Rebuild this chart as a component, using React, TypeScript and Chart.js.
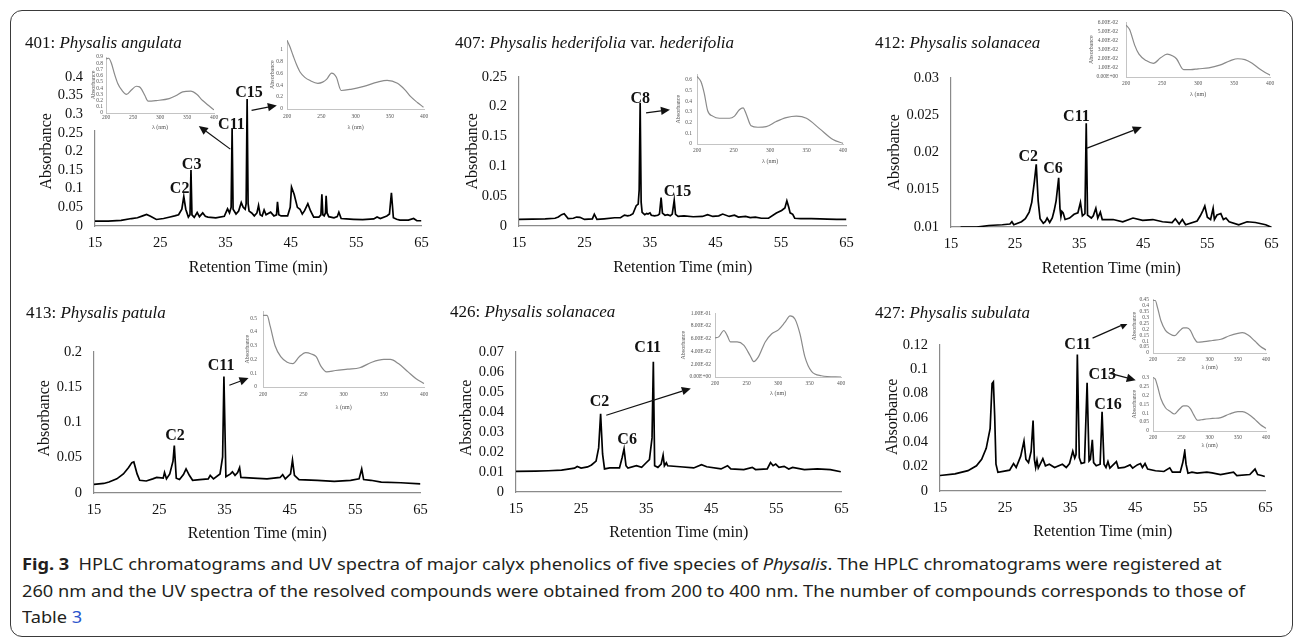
import React, { useEffect, useLayoutEffect, useRef } from 'react';
import { Chart, registerables } from 'chart.js';
Chart.register(...registerables);

const SERIF = "'Liberation Serif','Times New Roman',Times,serif";

// ---------------- chromatogram traces [time (min), absorbance] ----------------
const trace401: [number, number][] = [
  [15, 0.013], [17, 0.013], [19, 0.015], [20.6, 0.02], [21.5, 0.022], [22.3, 0.027], [22.9, 0.031], [23.5, 0.026], [24.4, 0.0175],
  [25.5, 0.02], [26.5, 0.024], [27.2, 0.027], [27.8, 0.03], [28.3, 0.045], [28.6, 0.079], [28.9, 0.045], [29.3, 0.024], [29.55, 0.03],
  [29.7, 0.15], [29.85, 0.03], [30.2, 0.023], [30.65, 0.036], [31.0, 0.025], [31.5, 0.035], [31.9, 0.026], [32.3, 0.024], [33.5, 0.022],
  [34.8, 0.026], [35.3, 0.046], [35.6, 0.035], [35.85, 0.05], [36.0, 0.26], [36.15, 0.045], [36.6, 0.032], [37.0, 0.04], [37.4, 0.063],
  [37.7, 0.05], [38.0, 0.045], [38.15, 0.06], [38.3, 0.34], [38.45, 0.06], [38.6, 0.04], [39.0, 0.035], [39.4, 0.027], [39.8, 0.035],
  [40.05, 0.055], [40.3, 0.03], [40.6, 0.027], [40.9, 0.043], [41.2, 0.03], [41.4, 0.032], [41.9, 0.037], [42.4, 0.027], [42.8, 0.03],
  [42.95, 0.065], [43.15, 0.03], [43.5, 0.027], [44.5, 0.027], [44.9, 0.05], [45.1, 0.104], [45.5, 0.085], [46.0, 0.05], [46.4, 0.045],
  [46.75, 0.032], [47.1, 0.041], [47.6, 0.06], [48.0, 0.041], [48.5, 0.024], [49.3, 0.024], [49.6, 0.03], [49.75, 0.085], [49.9, 0.03],
  [50.1, 0.027], [50.3, 0.035], [50.4, 0.081], [50.55, 0.035], [50.8, 0.025], [51.6, 0.022], [52.1, 0.025], [52.35, 0.037], [52.7, 0.02],
  [53.5, 0.019], [54.6, 0.018], [56, 0.017], [57.7, 0.019], [58.2, 0.024], [58.7, 0.02], [59.7, 0.027], [60.1, 0.032], [60.4, 0.089],
  [60.7, 0.022], [61.2, 0.018], [61.7, 0.016], [63, 0.016], [63.8, 0.02], [64.3, 0.014], [65, 0.014],
];

const trace407: [number, number][] = [
  [15, 0.011], [17, 0.0115], [19, 0.012], [20.5, 0.013], [21.0, 0.015], [21.5, 0.019], [21.9, 0.0206], [22.5, 0.0125], [23.3, 0.013],
  [23.8, 0.015], [24.3, 0.0145], [25.0, 0.011], [26.2, 0.012], [26.5, 0.0198], [26.9, 0.011], [28, 0.012], [29.6, 0.0138], [30.5, 0.014],
  [31.1, 0.0182], [31.6, 0.017], [32.0, 0.018], [32.4, 0.0206], [32.9, 0.034], [33.2, 0.0367], [33.35, 0.06], [33.5, 0.206], [33.65, 0.04],
  [33.8, 0.023], [34.2, 0.019], [34.5, 0.021], [34.7, 0.02], [35.0, 0.022], [35.2, 0.018], [35.7, 0.017], [36.2, 0.018], [36.45, 0.02],
  [36.7, 0.0476], [36.9, 0.0215], [37.3, 0.018], [37.7, 0.019], [38.1, 0.017], [38.4, 0.02], [38.7, 0.043], [38.9, 0.0195], [39.3, 0.016],
  [40.2, 0.017], [41.6, 0.0155], [43, 0.016], [43.8, 0.019], [44.6, 0.016], [45.5, 0.017], [46.1, 0.02], [47.1, 0.016], [47.9, 0.018],
  [48.5, 0.015], [49.6, 0.016], [50.3, 0.014], [51.1, 0.015], [52, 0.013], [53.1, 0.013], [54.3, 0.0216], [55.1, 0.026], [55.6, 0.0302],
  [55.9, 0.0422], [56.2, 0.031], [56.4, 0.022], [56.8, 0.0195], [57.1, 0.013], [58, 0.0125], [59.6, 0.0125], [61, 0.012], [62.1, 0.0115],
  [63.5, 0.011], [65, 0.011],
];

const trace412: [number, number][] = [
  [16.5, 0.01], [19, 0.01], [20.9, 0.0102], [23, 0.0103], [24.2, 0.0104], [24.5, 0.0107], [24.8, 0.0103], [26.0, 0.0107], [26.6, 0.0111],
  [27.2, 0.012], [27.6, 0.0133], [28.0, 0.016], [28.3, 0.0184], [28.6, 0.0135], [28.9, 0.0111], [29.4, 0.0105], [29.7, 0.0107], [30.0, 0.0112],
  [30.4, 0.0106], [30.8, 0.0112], [31.1, 0.0122], [31.4, 0.0135], [31.8, 0.0166], [32.0, 0.0125], [32.15, 0.0114], [32.3, 0.0121],
  [32.5, 0.0119], [32.8, 0.011], [33.5, 0.0112], [34.2, 0.0117], [34.8, 0.0119], [35.2, 0.0133], [35.5, 0.0115], [35.9, 0.0118],
  [36.1, 0.0239], [36.3, 0.0116], [36.9, 0.0112], [37.2, 0.0115], [37.6, 0.0125], [37.9, 0.0112], [38.3, 0.012], [38.6, 0.011],
  [40.3, 0.011], [41.8, 0.0107], [43.4, 0.0112], [44.9, 0.0109], [46.5, 0.011], [48.0, 0.0107], [49.5, 0.0106], [50.0, 0.0111],
  [50.6, 0.0104], [51.1, 0.011], [51.6, 0.0103], [53.4, 0.0108], [53.9, 0.0115], [54.3, 0.0122], [54.6, 0.0128], [55.0, 0.0113],
  [55.5, 0.011], [55.9, 0.0125], [56.1, 0.011], [56.5, 0.0116], [56.8, 0.0117], [57.1, 0.0118], [57.5, 0.011], [57.9, 0.0112],
  [58.4, 0.0107], [59.9, 0.0103], [61.2, 0.0107], [62.5, 0.0106], [64.1, 0.0103], [64.9, 0.01],
];

const trace413: [number, number][] = [
  [15, 0.0123], [16.5, 0.0135], [17.3, 0.0155], [18.5, 0.02], [19.5, 0.027], [20.3, 0.036], [20.8, 0.043], [21.1, 0.044], [21.6, 0.027],
  [22.0, 0.018], [23.0, 0.017], [24.0, 0.02], [24.6, 0.022], [25.6, 0.021], [25.8, 0.029], [26.1, 0.02], [26.6, 0.027], [27.1, 0.045],
  [27.3, 0.067], [27.6, 0.021], [28.1, 0.019], [28.7, 0.026], [29.1, 0.034], [29.6, 0.025], [30.1, 0.018], [31.2, 0.019], [32.5, 0.02],
  [32.8, 0.025], [33.3, 0.02], [34.3, 0.027], [34.7, 0.051], [34.9, 0.165], [35.2, 0.023], [35.9, 0.027], [36.2, 0.03], [36.6, 0.025],
  [37.0, 0.029], [37.3, 0.036], [37.5, 0.022], [39.4, 0.021], [41.5, 0.02], [43.5, 0.022], [43.9, 0.026], [44.3, 0.02], [45.1, 0.027],
  [45.4, 0.0466], [45.7, 0.025], [46.4, 0.019], [49.2, 0.018], [51.8, 0.0165], [54.3, 0.018], [55.6, 0.02], [56.0, 0.034], [56.3, 0.019],
  [57.4, 0.018], [59.0, 0.0155], [62.0, 0.0145], [65, 0.0128],
];

const trace426: [number, number][] = [
  [15, 0.0103], [18, 0.0104], [20, 0.0106], [22.0, 0.0109], [24.0, 0.0119], [24.4, 0.0127], [25.0, 0.0119], [26.0, 0.0125], [26.6, 0.0135],
  [27.3, 0.0154], [27.7, 0.022], [28.0, 0.039], [28.3, 0.019], [28.6, 0.0115], [29.4, 0.012], [30.9, 0.012], [31.3, 0.0171], [31.6, 0.0215],
  [31.9, 0.0131], [32.2, 0.012], [33.5, 0.0131], [34.3, 0.0123], [35.0, 0.0146], [35.5, 0.0162], [35.9, 0.027], [36.1, 0.065], [36.3, 0.0131],
  [36.8, 0.0123], [37.3, 0.0139], [37.6, 0.0184], [37.8, 0.0131], [38.1, 0.0146], [38.3, 0.0131], [40.2, 0.0126], [42.3, 0.012],
  [43.5, 0.0136], [44.3, 0.0126], [46.5, 0.0115], [47.5, 0.0131], [48.0, 0.0115], [50.0, 0.0112], [51.3, 0.0123], [51.8, 0.0112],
  [53.6, 0.0115], [54.1, 0.0147], [54.5, 0.0131], [54.9, 0.0139], [55.4, 0.0123], [56.2, 0.0128], [56.9, 0.0115], [57.5, 0.0123],
  [59.3, 0.0112], [61.3, 0.0115], [63.3, 0.0112], [64.9, 0.0101],
];

const trace427: [number, number][] = [
  [15, 0.0127], [17.3, 0.0141], [19.3, 0.0167], [20.6, 0.0207], [21.4, 0.026], [22.1, 0.035], [22.7, 0.0511], [23.0, 0.0882], [23.2, 0.0895],
  [23.4, 0.0617], [23.6, 0.022], [23.9, 0.0153], [24.9, 0.0163], [25.7, 0.0171], [26.3, 0.0225], [26.7, 0.0193], [27.4, 0.0286], [27.9, 0.041],
  [28.2, 0.026], [28.6, 0.0233], [29.0, 0.0326], [29.3, 0.0578], [29.5, 0.026], [29.7, 0.0193], [29.9, 0.0252], [30.1, 0.0188], [30.8, 0.0265],
  [31.2, 0.0206], [31.8, 0.022], [32.6, 0.0193], [33.8, 0.0219], [34.4, 0.0193], [34.9, 0.0225], [35.4, 0.0326], [35.7, 0.027], [35.9, 0.0299],
  [36.1, 0.112], [36.4, 0.0273], [36.7, 0.0225], [37.2, 0.0233], [37.6, 0.0888], [37.9, 0.0247], [38.1, 0.026], [38.4, 0.0419], [38.6, 0.0233],
  [39.0, 0.0207], [39.6, 0.022], [39.9, 0.0649], [40.2, 0.0219], [40.5, 0.0193], [40.8, 0.0241], [41.1, 0.0188], [42.1, 0.0241], [42.4, 0.0188],
  [43.3, 0.0193], [44.2, 0.0214], [44.6, 0.0188], [45.3, 0.0214], [45.8, 0.0225], [46.1, 0.0193], [46.5, 0.0225], [46.9, 0.018], [48.1, 0.0166],
  [49.4, 0.016], [50.3, 0.019], [50.7, 0.0154], [51.9, 0.0154], [52.3, 0.0233], [52.6, 0.0326], [52.8, 0.022], [53.1, 0.0146], [53.7, 0.0154],
  [54.5, 0.0146], [56.0, 0.0154], [56.8, 0.0149], [58.1, 0.0135], [60.1, 0.0154], [60.6, 0.0127], [62.6, 0.0135], [63.4, 0.018], [63.8, 0.0135],
  [64.4, 0.0127], [64.9, 0.0119],
];

// ---------------- UV spectra [wavelength (nm), absorbance] ----------------
const spec401C11: [number, number][] = [
  [200, 0.87], [205, 0.88], [210, 0.8], [216, 0.62], [222, 0.47], [229, 0.37], [238, 0.3], [247, 0.37], [256, 0.43], [262, 0.42], [266, 0.38],
  [272, 0.28], [278, 0.19], [293, 0.2], [317, 0.23], [330, 0.28], [342, 0.34], [357, 0.35], [368, 0.3], [379, 0.2], [390, 0.12], [400, 0.05],
];
const spec401C15: [number, number][] = [
  [200, 1.15], [204, 1.05], [209, 0.89], [214, 0.74], [219, 0.62], [226, 0.53], [233, 0.48], [245, 0.43], [252, 0.45], [258, 0.5], [265, 0.6],
  [268, 0.59], [272, 0.53], [279, 0.31], [293, 0.33], [312, 0.38], [332, 0.45], [346, 0.48], [361, 0.43], [372, 0.32], [380, 0.21], [390, 0.11],
  [399, 0.03],
];
const spec407C8: [number, number][] = [
  [200, 0.63], [205.5, 0.58], [210, 0.47], [214.6, 0.31], [221.5, 0.26], [230.7, 0.24], [244.4, 0.24], [251.3, 0.26], [258, 0.32], [263, 0.336],
  [267.3, 0.28], [274, 0.17], [283.3, 0.156], [294.7, 0.162], [308.5, 0.21], [322, 0.246], [336, 0.26], [349.7, 0.24], [368, 0.141], [386, 0.042],
  [400, 0.006],
];
const spec412C11: [number, number][] = [
  [200, 0.057], [205, 0.052], [212, 0.035], [218, 0.025], [228, 0.018], [238, 0.015], [248, 0.021], [257, 0.025], [265, 0.023], [270, 0.02],
  [280, 0.008], [290, 0.008], [300, 0.009], [315, 0.01], [330, 0.013], [345, 0.018], [355, 0.02], [365, 0.019], [375, 0.015], [385, 0.009],
  [393, 0.005], [400, 0.002],
];
const spec413C11: [number, number][] = [
  [200, 0.52], [205, 0.52], [209, 0.44], [215, 0.3], [222, 0.22], [230, 0.18], [237, 0.17], [245, 0.22], [253, 0.25], [260, 0.24], [266, 0.22],
  [272, 0.15], [279, 0.11], [290, 0.12], [305, 0.13], [320, 0.14], [335, 0.18], [350, 0.2], [358, 0.2], [368, 0.17], [380, 0.11], [390, 0.06],
  [400, 0.025],
];
const spec426C2: [number, number][] = [
  [200, 0.0615], [206, 0.063], [214, 0.073], [219.4, 0.065], [224.6, 0.055], [235, 0.055], [245.5, 0.05], [256, 0.033], [261.3, 0.024],
  [269, 0.032], [279.6, 0.055], [290, 0.068], [300.5, 0.074], [311, 0.086], [319, 0.096], [326.7, 0.091], [334.6, 0.068], [342.4, 0.032],
  [353, 0.0087], [368.6, 0.002], [400, 0],
];
const spec427C11: [number, number][] = [
  [200, 0.44], [204, 0.44], [208, 0.38], [214, 0.27], [222, 0.19], [230, 0.16], [238, 0.145], [246, 0.18], [254, 0.21], [260, 0.21], [266, 0.19],
  [272, 0.13], [279, 0.09], [290, 0.095], [305, 0.105], [320, 0.115], [335, 0.145], [350, 0.165], [358, 0.17], [368, 0.15], [380, 0.1],
  [390, 0.055], [400, 0.025],
];
const spec427C13: [number, number][] = [
  [200, 0.3], [204, 0.29], [208, 0.25], [214, 0.18], [222, 0.13], [230, 0.11], [238, 0.095], [246, 0.12], [254, 0.14], [260, 0.14], [266, 0.125],
  [272, 0.09], [279, 0.06], [290, 0.065], [305, 0.07], [320, 0.075], [335, 0.095], [350, 0.108], [358, 0.108], [368, 0.095], [380, 0.065],
  [390, 0.035], [400, 0.015],
];

// ---------------- peak labels and arrows (data coordinates of each chromatogram) ----------------
type Note = { text: string; t: number; v: number };
type Arrow = { t1: number; v1: number; t2: number; v2: number };

const notes401: Note[] = [
  { text: 'C2', t: 27.96, v: 0.0985 }, { text: 'C3', t: 29.8, v: 0.164 }, { text: 'C11', t: 35.9, v: 0.27 }, { text: 'C15', t: 38.6, v: 0.356 },
];
const arrows401: Arrow[] = [
  { t1: 35.73, v1: 0.206, t2: 30.9, v2: 0.268 }, { t1: 38.98, v1: 0.31, t2: 42.85, v2: 0.323 },
];
const notes407: Note[] = [{ text: 'C8', t: 33.5, v: 0.2127 }, { text: 'C15', t: 39.2, v: 0.0568 }];
const arrows407: Arrow[] = [{ t1: 34.4, v1: 0.1894, t2: 38.05, v2: 0.1948 }];
const notes412: Note[] = [{ text: 'C2', t: 27.06, v: 0.01935 }, { text: 'C6', t: 30.9, v: 0.01783 }, { text: 'C11', t: 34.57, v: 0.02477 }];
const arrows412: Arrow[] = [{ t1: 36.23, v1: 0.02056, t2: 44.77, v2: 0.02338 }];
const notes413: Note[] = [{ text: 'C2', t: 27.4, v: 0.0804 }, { text: 'C11', t: 34.47, v: 0.1795 }];
const arrows413: Arrow[] = [{ t1: 35.73, v1: 0.1525, t2: 38.67, v2: 0.1626 }];
const notes426: Note[] = [{ text: 'C2', t: 27.84, v: 0.045 }, { text: 'C6', t: 32.07, v: 0.0262 }, { text: 'C11', t: 35.23, v: 0.0721 }];
const arrows426: Arrow[] = [{ t1: 28.87, v1: 0.0383, t2: 41.86, v2: 0.0517 }];
const notes427: Note[] = [{ text: 'C11', t: 36.15, v: 0.1198 }, { text: 'C13', t: 39.92, v: 0.0954 }, { text: 'C16', t: 40.8, v: 0.071 }];
const arrows427: Arrow[] = [{ t1: 38.44, v1: 0.1254, t2: 44.05, v2: 0.1386 }, { t1: 41.0, v1: 0.0967, t2: 45.07, v2: 0.0909 }];

// ---------------- formatting helpers ----------------
function fmtDec(v: number) {
  return String(Number(v.toFixed(4)));
}
function fmtExp(v: number) {
  if (Math.abs(v) < 1e-12) return '0.00E+00';
  let e = Math.floor(Math.log10(Math.abs(v)) + 1e-9);
  let m = v / Math.pow(10, e);
  if (Math.round(m * 100) / 100 >= 10) { m /= 10; e += 1; }
  return `${m.toFixed(2)}E${e < 0 ? '-' : '+'}${String(Math.abs(e)).padStart(2, '0')}`;
}

// ---------------- layout types ----------------
type Inset = {
  data: [number, number][]; yMax: number; yStep: number; exp: boolean;
  area: [number, number, number, number]; pad: [number, number, number, number];
  yLabPad: number; yTitleDx: number; xLabPad: number; xTitleDy: number;
};
type Panel = {
  trace: [number, number][]; yMin: number; yMax: number; yStep: number;
  area: [number, number, number, number]; yTitleDx: number; yTitleDy: number; xTitleDy: number;
  notes: Note[]; arrows: Arrow[]; insets: Inset[]; title: React.ReactNode; titleX: number; titleY: number;
};

const MP = { l: 72, t: 16, r: 14, b: 56 };

function titlesPlugin(xt: string, yt: string, xdy: number, ydx: number, ydy: number, font: string, color: string) {
  return {
    id: 'axisTitles',
    afterDraw(chart: any) {
      const { ctx, chartArea: a } = chart;
      ctx.save();
      ctx.fillStyle = color;
      ctx.font = font;
      ctx.textAlign = 'center';
      ctx.textBaseline = 'middle';
      ctx.fillText(xt, (a.left + a.right) / 2, a.bottom + xdy);
      ctx.translate(a.left - ydx, (a.top + a.bottom) / 2 + ydy);
      ctx.rotate(-Math.PI / 2);
      ctx.fillText(yt, 0, 0);
      ctx.restore();
    },
  };
}

function overlayPlugin(overlay: HTMLCanvasElement, notes: Note[], arrows: Arrow[]) {
  return {
    id: 'overlayNotes',
    afterDraw(chart: any) {
      const ctx = overlay.getContext('2d')!;
      ctx.clearRect(0, 0, overlay.width, overlay.height);
      const xs = chart.scales.x, ys = chart.scales.y;
      ctx.save();
      ctx.strokeStyle = '#111';
      ctx.fillStyle = '#111';
      ctx.lineWidth = 1.2;
      arrows.forEach((a) => {
        const x1 = xs.getPixelForValue(a.t1), y1 = ys.getPixelForValue(a.v1);
        const x2 = xs.getPixelForValue(a.t2), y2 = ys.getPixelForValue(a.v2);
        const ang = Math.atan2(y2 - y1, x2 - x1);
        const hl = 9, hw = 4.2;
        const bx = x2 - hl * Math.cos(ang), by = y2 - hl * Math.sin(ang);
        ctx.beginPath();
        ctx.moveTo(x1, y1);
        ctx.lineTo(bx, by);
        ctx.stroke();
        ctx.beginPath();
        ctx.moveTo(x2, y2);
        ctx.lineTo(bx + hw * Math.sin(ang), by - hw * Math.cos(ang));
        ctx.lineTo(bx - hw * Math.sin(ang), by + hw * Math.cos(ang));
        ctx.closePath();
        ctx.fill();
      });
      ctx.font = `bold 16px ${SERIF}`;
      ctx.textAlign = 'center';
      ctx.textBaseline = 'middle';
      notes.forEach((n) => {
        ctx.fillText(n.text, xs.getPixelForValue(n.t), ys.getPixelForValue(n.v));
      });
      ctx.restore();
    },
  };
}

function makeMain(canvas: HTMLCanvasElement, overlay: HTMLCanvasElement, p: Panel) {
  const tickFont = { family: SERIF, size: 14.5 };
  const axisBorder = { display: true, color: '#8a8a8a', width: 1.2 };
  const noGrid = { display: false, drawTicks: false };
  return new Chart(canvas, {
    type: 'line',
    data: {
      datasets: [{
        data: p.trace.map(([x, y]) => ({ x, y })),
        borderColor: '#000', borderWidth: 1.7, pointRadius: 0, tension: 0, fill: false,
      }],
    },
    options: {
      responsive: false, animation: false, devicePixelRatio: 1, events: [],
      layout: { padding: { left: 0, top: MP.t, right: MP.r, bottom: 0 } },
      plugins: { legend: { display: false }, tooltip: { enabled: false } },
      scales: {
        x: {
          type: 'linear', min: 15, max: 65,
          afterFit: (s: any) => { s.height = MP.b; },
          ticks: { stepSize: 10, font: tickFont, color: '#111', padding: 8.3, maxRotation: 0, autoSkip: false },
          grid: noGrid, border: axisBorder,
        },
        y: {
          type: 'linear', min: p.yMin, max: p.yMax,
          afterFit: (s: any) => { s.width = MP.l; },
          ticks: { stepSize: p.yStep, font: tickFont, color: '#111', padding: 12, autoSkip: false, callback: (v: any) => fmtDec(Number(v)) },
          grid: noGrid, border: axisBorder,
        },
      },
    } as any,
    plugins: [
      titlesPlugin('Retention Time (min)', 'Absorbance', p.xTitleDy, p.yTitleDx, p.yTitleDy, `16px ${SERIF}`, '#111'),
      overlayPlugin(overlay, p.notes, p.arrows),
    ] as any,
  });
}

function makeInset(canvas: HTMLCanvasElement, s: Inset) {
  const tickFont = { family: SERIF, size: 5.5 };
  const axisBorder = { display: true, color: '#c4c4c4', width: 1 };
  const noGrid = { display: false, drawTicks: false };
  return new Chart(canvas, {
    type: 'line',
    data: {
      datasets: [{
        data: s.data.map(([x, y]) => ({ x, y })),
        borderColor: '#8a8a8a', borderWidth: 1.2, pointRadius: 0, cubicInterpolationMode: 'monotone', fill: false,
      }],
    },
    options: {
      responsive: false, animation: false, devicePixelRatio: 1, events: [],
      layout: { padding: { left: 0, top: s.pad[1], right: s.pad[2], bottom: 0 } },
      plugins: { legend: { display: false }, tooltip: { enabled: false } },
      scales: {
        x: {
          type: 'linear', min: 200, max: 400,
          afterFit: (sc: any) => { sc.height = s.pad[3]; },
          ticks: { stepSize: 50, font: tickFont, color: '#555', padding: s.xLabPad, maxRotation: 0, autoSkip: false },
          grid: noGrid, border: axisBorder,
        },
        y: {
          type: 'linear', min: 0, max: s.yMax,
          afterFit: (sc: any) => { sc.width = s.pad[0]; },
          ticks: {
            stepSize: s.yStep, includeBounds: false, font: tickFont, color: '#555', padding: s.yLabPad, autoSkip: false,
            callback: (v: any) => (s.exp ? fmtExp(Number(v)) : fmtDec(Number(v))),
          },
          grid: noGrid, border: axisBorder,
        },
      },
    } as any,
    plugins: [titlesPlugin('λ (nm)', 'Absorbance', s.xTitleDy, s.yTitleDx, 0, `6px ${SERIF}`, '#555')] as any,
  });
}

// ---------------- panels ----------------
const panels: Panel[] = [
  {
    trace: trace401, yMin: 0, yMax: 0.4, yStep: 0.05, area: [95, 72, 423, 226], yTitleDx: 48, yTitleDy: 0, xTitleDy: 42,
    notes: notes401, arrows: arrows401, titleX: 25, titleY: 43,
    title: <>401: <i>Physalis angulata</i></>,
    insets: [
      { data: spec401C11, yMax: 0.9, yStep: 0.1, exp: false, area: [106, 57, 214, 113], pad: [18, 8, 6, 17], yLabPad: 3, yTitleDx: 13, xLabPad: 1.7, xTitleDy: 14 },
      { data: spec401C15, yMax: 1.15, yStep: 0.2, exp: false, area: [287, 39, 427, 109], pad: [20, 6, 6, 22], yLabPad: 4, yTitleDx: 15, xLabPad: 4.7, xTitleDy: 18 },
    ],
  },
  {
    trace: trace407, yMin: 0, yMax: 0.25, yStep: 0.05, area: [519, 72, 848, 226], yTitleDx: 46, yTitleDy: 0, xTitleDy: 42,
    notes: notes407, arrows: arrows407, titleX: 455, titleY: 43,
    title: <>407: <i>Physalis hederifolia</i> var. <i>hederifolia</i></>,
    insets: [
      { data: spec407C8, yMax: 0.65, yStep: 0.1, exp: false, area: [697, 72, 845, 144], pad: [24, 6, 6, 22], yLabPad: 5, yTitleDx: 19, xLabPad: 3.7, xTitleDy: 17 },
    ],
  },
  {
    trace: trace412, yMin: 0.01, yMax: 0.03, yStep: 0.005, area: [951, 73, 1273, 227], yTitleDx: 56, yTitleDy: 0, xTitleDy: 42,
    notes: notes412, arrows: arrows412, titleX: 875, titleY: 43,
    title: <>412: <i>Physalis solanacea</i></>,
    insets: [
      { data: spec412C11, yMax: 0.06, yStep: 0.01, exp: true, area: [1126, 13, 1272, 77], pad: [38, 2, 6, 22], yLabPad: 8, yTitleDx: 35, xLabPad: 3.7, xTitleDy: 17 },
    ],
  },
  {
    trace: trace413, yMin: 0, yMax: 0.2, yStep: 0.05, area: [94, 347, 422, 493], yTitleDx: 49, yTitleDy: -4, xTitleDy: 41,
    notes: notes413, arrows: arrows413, titleX: 26, titleY: 313,
    title: <>413: <i>Physalis patula</i></>,
    insets: [
      { data: spec413C11, yMax: 0.55, yStep: 0.1, exp: false, area: [263, 307, 428, 387], pad: [22, 5, 5, 24], yLabPad: 6, yTitleDx: 16, xLabPad: 4.7, xTitleDy: 20 },
    ],
  },
  {
    trace: trace426, yMin: 0, yMax: 0.07, yStep: 0.01, area: [516, 347, 843, 492], yTitleDx: 49, yTitleDy: -4, xTitleDy: 41,
    notes: notes426, arrows: arrows426, titleX: 450, titleY: 312,
    title: <>426: <i>Physalis solanacea</i></>,
    insets: [
      { data: spec426C2, yMax: 0.1, yStep: 0.02, exp: true, area: [715, 312, 843, 377], pad: [36, 6, 6, 20], yLabPad: 4, yTitleDx: 32, xLabPad: 3.7, xTitleDy: 16 },
    ],
  },
  {
    trace: trace427, yMin: 0, yMax: 0.12, yStep: 0.02, area: [940, 340, 1267, 491], yTitleDx: 47, yTitleDy: -1, xTitleDy: 41,
    notes: notes427, arrows: arrows427, titleX: 875, titleY: 313,
    title: <>427: <i>Physalis subulata</i></>,
    insets: [
      { data: spec427C11, yMax: 0.45, yStep: 0.05, exp: false, area: [1153, 297, 1268, 353], pad: [22, 5, 6, 17], yLabPad: 4, yTitleDx: 19, xLabPad: 3.7, xTitleDy: 14 },
      { data: spec427C13, yMax: 0.3, yStep: 0.05, exp: false, area: [1153, 374, 1268, 431], pad: [22, 4, 6, 18], yLabPad: 4, yTitleDx: 19, xLabPad: 3.7, xTitleDy: 14 },
    ],
  },
];

function PanelView({ p }: { p: Panel }) {
  const mainRef = useRef<HTMLCanvasElement>(null);
  const overRef = useRef<HTMLCanvasElement>(null);
  const insetRefs = useRef<(HTMLCanvasElement | null)[]>([]);
  useEffect(() => {
    const charts: Chart[] = [];
    charts.push(makeMain(mainRef.current!, overRef.current!, p));
    p.insets.forEach((s, i) => charts.push(makeInset(insetRefs.current[i]!, s)));
    return () => charts.forEach((c) => c.destroy());
  }, [p]);
  const [L, T, R, B] = p.area;
  const mw = R - L + MP.l + MP.r;
  const mh = B - T + MP.t + MP.b;
  const mainStyle: React.CSSProperties = { position: 'absolute', left: L - MP.l, top: T - MP.t, width: mw, height: mh };
  return (
    <>
      <canvas ref={mainRef} width={mw} height={mh} style={mainStyle} />
      {p.insets.map((s, i) => {
        const [l, t, r, b] = s.area;
        const w = r - l + s.pad[0] + s.pad[2];
        const h = b - t + s.pad[1] + s.pad[3];
        return (
          <canvas
            key={i}
            ref={(el) => { insetRefs.current[i] = el; }}
            width={w}
            height={h}
            style={{ position: 'absolute', left: l - s.pad[0], top: t - s.pad[1], width: w, height: h, background: '#fff' }}
          />
        );
      })}
      <canvas ref={overRef} width={mw} height={mh} style={{ ...mainStyle, pointerEvents: 'none' }} />
      <div
        style={{
          position: 'absolute', left: p.titleX, top: p.titleY - 10, height: 20, lineHeight: '20px',
          fontFamily: SERIF, fontSize: 17, color: '#111', whiteSpace: 'nowrap',
        }}
      >
        {p.title}
      </div>
    </>
  );
}

export default function App() {
  const capRef = useRef<HTMLDivElement>(null);
  useLayoutEffect(() => {
    const fit = () => {
      const el = capRef.current;
      if (!el) return;
      el.style.transform = 'none';
      const line = el.children[1] as HTMLElement;
      const w = line.getBoundingClientRect().width;
      if (w > 0) el.style.transform = `scaleX(${1223 / w})`;
    };
    fit();
    (document as any).fonts?.ready?.then(fit);
  }, []);
  return (
    <div style={{ position: 'absolute', left: 0, top: 0, width: 1295, height: 639, background: '#fff', overflow: 'hidden' }}>
      <div
        style={{
          position: 'absolute', left: 10, top: 10, width: 1283, height: 627, boxSizing: 'border-box',
          border: '1.5px solid #3a3a3a', borderRadius: 12,
        }}
      />
      {panels.map((p, i) => <PanelView key={i} p={p} />)}
      <div
        ref={capRef}
        style={{
          position: 'absolute', left: 22, top: 551, fontFamily: "'Noto Sans', 'Open Sans', sans-serif", fontSize: 16.5,
          lineHeight: '26.5px', color: '#231f20', whiteSpace: 'nowrap', transformOrigin: '0 0',
        }}
      >
        <div><b>Fig. 3</b>&ensp;HPLC chromatograms and UV spectra of major calyx phenolics of five species of <i>Physalis</i>. The HPLC chromatograms were registered at</div>
        <div style={{ display: 'inline-block' }}>260 nm and the UV spectra of the resolved compounds were obtained from 200 to 400 nm. The number of compounds corresponds to those of</div>
        <div>Table <span style={{ color: '#2a55cc' }}>3</span></div>
      </div>
    </div>
  );
}
